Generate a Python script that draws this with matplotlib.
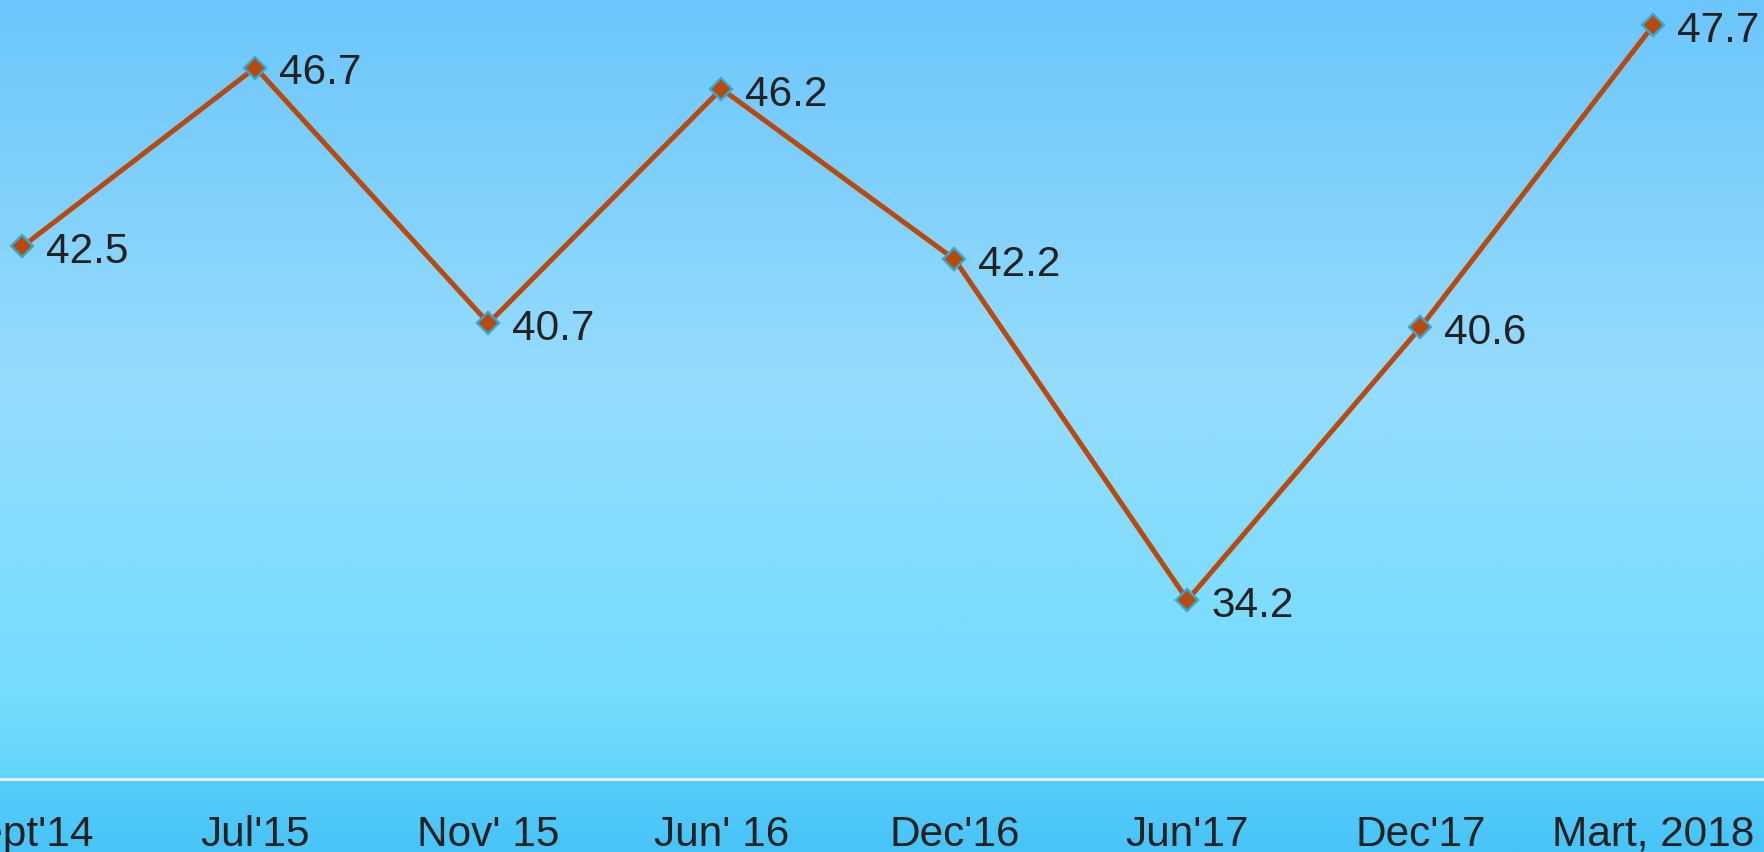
import numpy as np
import matplotlib
matplotlib.use("Agg")
import matplotlib.pyplot as plt
from matplotlib.colors import LinearSegmentedColormap

categories = ["Sept'14", "Jul'15", "Nov' 15", "Jun' 16", "Dec'16", "Jun'17", "Dec'17", "Mart, 2018"]
values = [42.5, 46.7, 40.7, 46.2, 42.2, 34.2, 40.6, 47.7]

W, H = 1764, 853
fig = plt.figure(figsize=(W / 100, H / 100), dpi=100)

# background gradient
bg = fig.add_axes([0, 0, 1, 1], zorder=0)
cmap = LinearSegmentedColormap.from_list(
    "bg",
    [(0.0, "#6cc6fb"), (0.45, "#95dcfd"), (0.82, "#74dcfd"), (0.915, "#62d5fb"), (0.92, "#55cdf9"), (1.0, "#49c4f8")],
)
grad = np.linspace(0, 1, 400).reshape(-1, 1)
bg.imshow(grad, aspect="auto", cmap=cmap, extent=[0, 1, 0, 1], origin="upper")
bg.set_axis_off()

# main axes: x from -94 to 1770 px, y from 780 px (bottom) up to 0
left = -94 / W
right = 1770 / W
bottom = (H - 780) / H
ax = fig.add_axes([left, bottom, right - left, 1 - bottom], zorder=1)
ax.patch.set_alpha(0)

x = np.arange(len(categories))
ax.plot(x, values, color="#b84a10", lw=3.6, marker="D", ms=11,
        mfc="#b84a10", mec="#3aa8cc", mew=1.7, solid_joinstyle="miter", clip_on=False)

for xi, v in zip(x, values):
    ax.annotate(f"{v}", (xi, v), xytext=(17, -3.5), textcoords="offset points",
                ha="left", va="center", fontsize=30.5, color="#222222",
                family="Liberation Sans", annotation_clip=False)

ax.set_xlim(-0.5, 7.5)
ymin = 30.0
px_per_unit = (602 - 26) / (47.7 - 34.2)
ymax = 47.7 + 26 / px_per_unit
ax.set_ylim(ymin, ymax)

for s in ["top", "left", "right"]:
    ax.spines[s].set_visible(False)
ax.spines["bottom"].set_color("white")
ax.spines["bottom"].set_linewidth(1.8)
ax.set_yticks([])
ax.set_xticks(x)
ax.set_xticklabels(categories, fontsize=30.5, color="#222222", family="Liberation Sans")
ax.tick_params(axis="x", length=0, pad=25)

fig.savefig("out.png", dpi=100)
